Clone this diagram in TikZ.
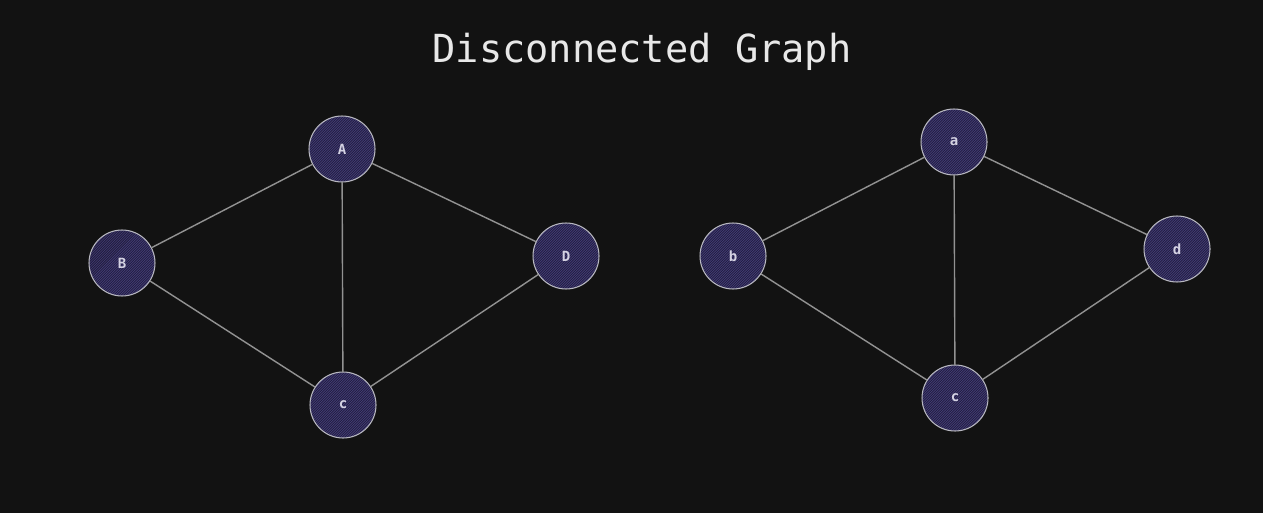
\documentclass[tikz,border=0pt]{standalone}
\usepackage{fontspec}
\setmonofont{DejaVu Sans Mono}
\usetikzlibrary{calc}
\definecolor{bg}{HTML}{121212}
\definecolor{rim}{HTML}{B8B8C0}
\definecolor{fillv}{HTML}{221E3A}
\definecolor{hatch}{HTML}{433C7C}
\definecolor{edge}{HTML}{929292}
\definecolor{txt}{HTML}{E8E8E8}
\definecolor{lbl}{HTML}{D4D2E2}
\tikzset{
  vert/.style={circle, draw=rim, fill=fillv, line width=0.6pt, minimum size=1.32cm,
    inner sep=0pt, text=lbl, font=\ttfamily\bfseries\fontsize{8}{8}\selectfont,
    path picture={\foreach \k in {-70,-67.5,...,70}{\draw[hatch,line width=0.4pt]
      ($(path picture bounding box.center)+(\k-40,40)$)--++(80,-80);}}},
  link/.style={edge, line width=0.8pt, line cap=round}
}
\begin{document}
\begin{tikzpicture}[x=0.02cm, y=-0.02cm]
  \fill[bg] (0,0) rectangle (1263,513);
  \useasboundingbox (0,0) rectangle (1263,513);
  \node[text=txt, font=\ttfamily\fontsize{22}{22}\selectfont] (title) at (642,52) {Disconnected Graph};
  % left component
  \node[vert] (A) at (342,149) {A};
  \node[vert] (B) at (122,263) {B};
  \node[vert] (D) at (566,256) {D};
  \node[vert] (C) at (343,405) {c};
  % right component
  \node[vert] (a) at (954,142) {a};
  \node[vert] (b) at (733,256) {b};
  \node[vert] (d) at (1177,249) {d};
  \node[vert] (c) at (955,398) {c};
  \foreach \u/\v in {A/B,A/D,A/C,B/C,D/C,a/b,a/d,a/c,b/c,d/c}{\draw[link] (\u)--(\v);}
\end{tikzpicture}
\end{document}
